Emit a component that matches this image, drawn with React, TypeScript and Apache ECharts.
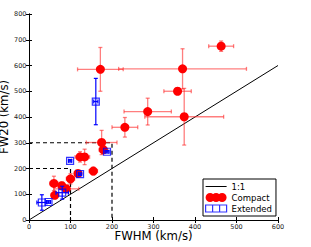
import React, { useEffect, useRef } from "react";
import * as echarts from "echarts";

// Compact sources (red circles)
const compactX = [463, 172, 370, 358, 374, 286, 231, 175, 179, 123, 134, 155, 118, 100, 60, 79, 90, 62];
const compactY = [675, 585, 587, 500, 401, 421, 360, 301, 273, 245, 245, 190, 181, 160, 142, 133, 121, 96];
const compactXErr = [30, 55, 154, 33, 95, 57, 31, 37, 10, 12, 12, 10, 8, 10, 10, 15, 30, 8];
const compactYErr = [20, 85, 78, 12, 110, 52, 38, 47, 15, 20, 30, 15, 10, 20, 28, 15, 12, 10];

// Extended sources (blue open squares)
const extendedX = [161, 188, 99, 123, 80, 31, 47];
const extendedY = [460, 265, 230, 178, 106, 68, 70];
const extendedXErr = [5, 5, 4, 4, 15, 12, 5];
const extendedYErr = [90, 5, 5, 5, 25, 30, 5];

// Reference lines
const oneToOneX = [0, 600];
const oneToOneY = [0, 600];
const dash300X = [0, 200, 200];
const dash300Y = [300, 300, 0];
const dash200X = [0, 100, 100];
const dash200Y = [200, 200, 0];

const xTicks = [0, 100, 200, 300, 400, 500, 600];
const yTicks = [0, 100, 200, 300, 400, 500, 600, 700, 800];

const zip = (a: number[], b: number[]) => a.map((v, i) => [v, b[i]]);
const zip4 = (a: number[], b: number[], c: number[], d: number[]) =>
  a.map((v, i) => [v, b[i], c[i], d[i]]);

const FONT = "DejaVu Sans";

function errorBarRenderer(color: string, width: number) {
  return (params: any, api: any) => {
    const x = api.value(0);
    const y = api.value(1);
    const xe = api.value(2);
    const ye = api.value(3);
    const l = api.coord([x - xe, y]);
    const r = api.coord([x + xe, y]);
    const t = api.coord([x, y + ye]);
    const b = api.coord([x, y - ye]);
    const cap = 2;
    const shapes = [
      { x1: l[0], y1: l[1], x2: r[0], y2: r[1] },
      { x1: t[0], y1: t[1], x2: b[0], y2: b[1] },
      { x1: l[0], y1: l[1] - cap, x2: l[0], y2: l[1] + cap },
      { x1: r[0], y1: r[1] - cap, x2: r[0], y2: r[1] + cap },
      { x1: t[0] - cap, y1: t[1], x2: t[0] + cap, y2: t[1] },
      { x1: b[0] - cap, y1: b[1], x2: b[0] + cap, y2: b[1] },
    ];
    return {
      type: "group",
      children: shapes.map((shape) => ({
        type: "line",
        shape,
        style: { stroke: color, lineWidth: width },
      })),
    };
  };
}

export default function App() {
  const ref = useRef<HTMLDivElement>(null);

  useEffect(() => {
    if (!ref.current) return;
    const chart = echarts.init(ref.current, undefined, { renderer: "svg" });
    const axisLine = { show: true, lineStyle: { color: "#000", width: 1 } };
    const tick = { show: true, inside: true, length: 3, lineStyle: { color: "#000", width: 1 } };
    const option: any = {
      animation: false,
      textStyle: { fontFamily: FONT },
      grid: {
        left: 29,
        right: 33,
        top: 14,
        bottom: 27,
        containLabel: false,
        outerBoundsMode: "none",
      },
      xAxis: [
        {
          type: "value",
          min: xTicks[0],
          max: xTicks[xTicks.length - 1],
          interval: 100,
          position: "bottom",
          name: "FWHM (km/s)",
          nameLocation: "middle",
          nameGap: 10,
          nameMoveOverlap: false,
          nameTextStyle: { fontSize: 11.7, color: "#000", fontFamily: FONT },
          axisLine,
          axisTick: tick,
          axisLabel: { fontSize: 6.5, color: "#222", margin: 3, fontFamily: FONT },
          splitLine: { show: false },
        },
        {
          type: "value",
          min: xTicks[0],
          max: xTicks[xTicks.length - 1],
          interval: 100,
          position: "top",
          axisLine,
          axisTick: tick,
          axisLabel: { show: false },
          splitLine: { show: false },
        },
      ],
      yAxis: [
        {
          type: "value",
          min: yTicks[0],
          max: yTicks[yTicks.length - 1],
          interval: 100,
          position: "left",
          name: "FW20 (km/s)",
          nameLocation: "middle",
          nameGap: 19,
          nameMoveOverlap: false,
          nameTextStyle: { fontSize: 11.7, lineHeight: 12, color: "#000", fontFamily: FONT },
          axisLine,
          axisTick: tick,
          axisLabel: { fontSize: 6.5, color: "#222", margin: 2.5, fontFamily: FONT },
          splitLine: { show: false },
        },
        {
          type: "value",
          min: yTicks[0],
          max: yTicks[yTicks.length - 1],
          interval: 100,
          position: "right",
          axisLine,
          axisTick: tick,
          axisLabel: { show: false },
          splitLine: { show: false },
        },
      ],
      legend: {
        orient: "vertical",
        left: 203,
        top: 179,
        padding: [3, 4, 3, 2],
        itemGap: 2,
        itemWidth: 21,
        itemHeight: 9,
        borderColor: "#000",
        borderWidth: 1,
        borderRadius: 0,
        backgroundColor: "#fff",
        textStyle: { fontSize: 8.5, color: "#000", fontFamily: FONT },
        data: [
          {
            name: "1:1",
            icon: "path://M0,0H20V1H0Z",
            itemStyle: { color: "#000", borderWidth: 0 },
          },
          {
            name: "Compact",
            icon:
              "path://M0,4.5a4.5,4.5 0 1,0 9,0a4.5,4.5 0 1,0 -9,0z M6,4.5a4.5,4.5 0 1,0 9,0a4.5,4.5 0 1,0 -9,0z M12,4.5a4.5,4.5 0 1,0 9,0a4.5,4.5 0 1,0 -9,0z",
            itemStyle: { color: "#ff0000", borderWidth: 0 },
          },
          {
            name: "Extended",
            icon: "path://M0,0H7V7H0Z M7,0H14V7H7Z M14,0H21V7H14Z",
            itemStyle: { color: "transparent", borderColor: "#0000ff", borderWidth: 1.2 },
          },
        ],
      },
      series: [
        {
          name: "1:1",
          type: "line",
          data: zip(oneToOneX, oneToOneY),
          symbol: "none",
          lineStyle: { color: "#000", width: 1 },
          itemStyle: { color: "#000" },
          z: 2,
        },
        {
          name: "dash300",
          type: "line",
          data: zip(dash300X, dash300Y),
          symbol: "none",
          lineStyle: { color: "#000", width: 1.2, type: [4, 3] },
          z: 2,
        },
        {
          name: "dash200",
          type: "line",
          data: zip(dash200X, dash200Y),
          symbol: "none",
          lineStyle: { color: "#000", width: 1.2, type: [4, 3] },
          z: 2,
        },
        {
          name: "compactErr",
          type: "custom",
          data: zip4(compactX, compactY, compactXErr, compactYErr),
          renderItem: errorBarRenderer("rgba(255,40,40,0.6)", 1.3),
          encode: { x: 0, y: 1 },
          z: 3,
        },
        {
          name: "Compact",
          type: "scatter",
          data: zip(compactX, compactY),
          symbol: "circle",
          symbolSize: 9,
          itemStyle: { color: "#ff0000", opacity: 1 },
          z: 4,
        },
        {
          name: "extendedErr",
          type: "custom",
          data: zip4(extendedX, extendedY, extendedXErr, extendedYErr),
          renderItem: errorBarRenderer("#0000ff", 1.2),
          encode: { x: 0, y: 1 },
          z: 5,
        },
        {
          name: "Extended",
          type: "scatter",
          data: zip(extendedX, extendedY),
          symbol: "rect",
          symbolSize: 7,
          itemStyle: { color: "transparent", borderColor: "#0000ff", borderWidth: 1.2 },
          z: 6,
        },
      ],
    };
    chart.setOption(option);
    return () => chart.dispose();
  }, []);

  return (
    <div
      ref={ref}
      style={{ position: "fixed", left: 0, top: 0, width: 311, height: 247, background: "#fff" }}
    />
  );
}
